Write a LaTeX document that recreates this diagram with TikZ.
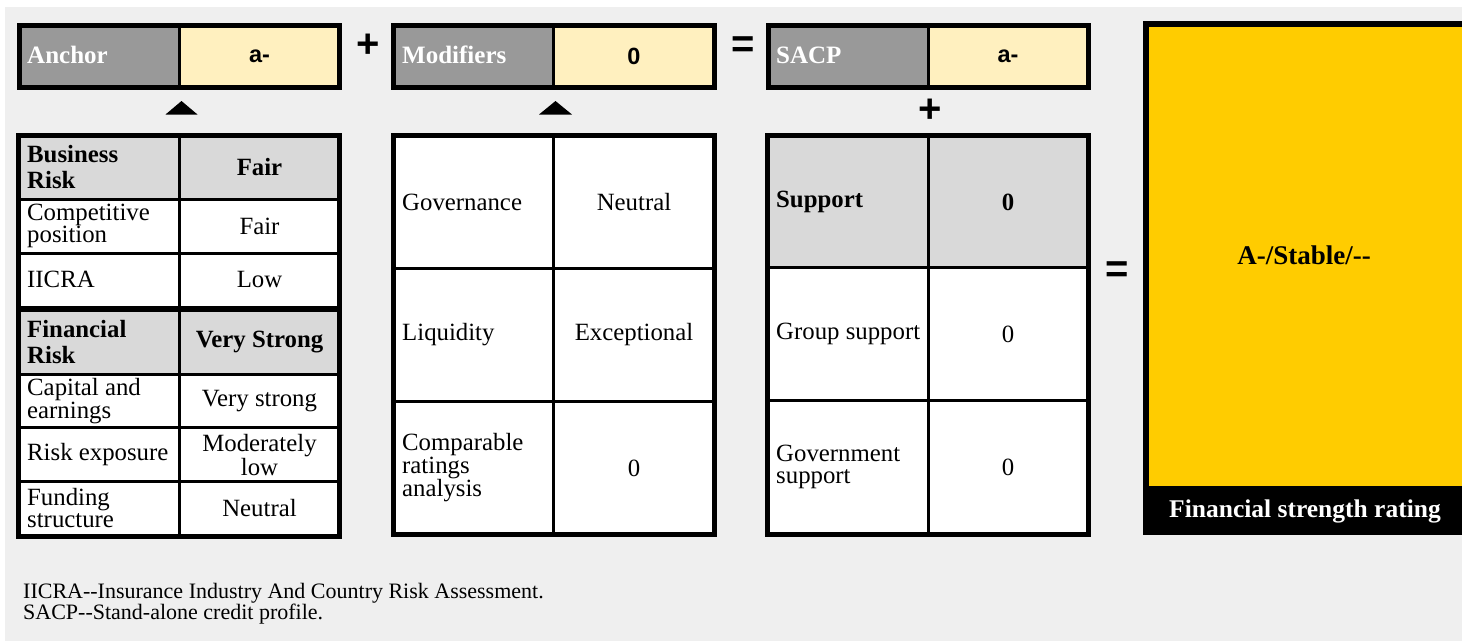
\documentclass[tikz,border=0pt]{standalone}
\usepackage{fontspec}
\setmainfont{Liberation Serif}
\newfontfamily\sansfam{Liberation Sans}
\definecolor{bgc}{HTML}{EFEFEF}
\definecolor{hdrg}{HTML}{999999}
\definecolor{paley}{HTML}{FFF0BF}
\definecolor{cellg}{HTML}{D9D9D9}
\definecolor{fsrgold}{HTML}{FFCC00}
\newcommand{\dblhy}{-\kern0pt-}
\tikzset{
 body/.style={inner sep=0pt, font=\fontsize{24.8}{22.5}\selectfont},
 lbl/.style={body, anchor=west, align=left},
 val/.style={body, anchor=center, align=center},
 blbl/.style={inner sep=0pt, anchor=west, align=left, font=\fontsize{24.8}{26}\selectfont\bfseries},
 bval/.style={inner sep=0pt, anchor=center, align=center, font=\fontsize{24.8}{26}\selectfont\bfseries},
 hdrtxt/.style={inner sep=0pt, anchor=west, text=white, font=\fontsize{25}{26}\selectfont\bfseries},
 sanstxt/.style={inner sep=0pt, anchor=center, font=\sansfam\fontsize{23.5}{23.5}\selectfont\bfseries},
 optxt/.style={inner sep=0pt, anchor=center, font=\sansfam\fontsize{40}{40}\selectfont\bfseries},
 foot/.style={inner sep=0pt, anchor=west, font=\fontsize{22}{21}\selectfont},
 frame/.style={line width=5pt},
 gridline/.style={line width=3pt},
 thickgrid/.style={line width=6pt},
 tri/.style={fill=black},
}
\begin{document}
\begin{tikzpicture}[x=1pt,y=-1pt]
\useasboundingbox (0,0) rectangle (1462,641);
\fill[white] (0,0) rectangle (1462,641);
\fill[bgc] (5,7) rectangle (1462,641);

% ---------- header boxes ----------
% Anchor
\fill[hdrg] (19.5,25.5) rectangle (179.5,87.5);
\fill[paley] (179.5,25.5) rectangle (339.5,87.5);
\draw[frame] (19.5,25.5) rectangle (339.5,87.5);
\draw[gridline] (179.5,25.5) -- (179.5,87.5);
\node[hdrtxt] (anchorlbl) at (27,55) {Anchor};
\node[sanstxt] (anchorval) at (259.5,56) {a-};
% Modifiers
\fill[hdrg] (393.5,25.5) rectangle (553.5,87.5);
\fill[paley] (553.5,25.5) rectangle (714.5,87.5);
\draw[frame] (393.5,25.5) rectangle (714.5,87.5);
\draw[gridline] (553.5,25.5) -- (553.5,87.5);
\node[hdrtxt] (modlbl) at (402,55) {Modifiers};
\node[sanstxt] (modval) at (634,56) {0};
% SACP
\fill[hdrg] (768.5,25.5) rectangle (928,87.5);
\fill[paley] (928,25.5) rectangle (1088.5,87.5);
\draw[frame] (768.5,25.5) rectangle (1088.5,87.5);
\draw[gridline] (928,25.5) -- (928,87.5);
\node[hdrtxt] (sacplbl) at (776,55) {SACP};
\node[sanstxt] (sacpval) at (1008,56) {a-};

% operators
\node[optxt] (plusA) at (368,45.5) {+};
\node[optxt] (eqA) at (743,47) {=};
\node[optxt] (plusB) at (930,111) {+};
\node[optxt] (eqB) at (1117.5,272.5) {=};

% triangles
\fill[tri] (165.5,114.5) -- (181.5,101) -- (197.5,114.5) -- cycle;
\fill[tri] (539,114.5) -- (555.5,101) -- (572,114.5) -- cycle;

% ---------- left table ----------
\fill[white] (18.5,135.5) rectangle (339.5,536.5);
\fill[cellg] (21,138) rectangle (337,199.5);
\fill[cellg] (21,309) rectangle (337,374);
\node[blbl] (brisk) at (27,167) {Business\\Risk};
\node[bval] (briskv) at (259.5,167) {Fair};
\node[lbl] (comp) at (27,226) {Competitive\\position};
\node[val] (compv) at (259.5,226) {Fair};
\node[lbl] (iicra) at (27,279.5) {IICRA};
\node[val] (iicrav) at (259.5,279.5) {Low};
\node[blbl] (frisk) at (27,342) {Financial\\Risk};
\node[bval] (friskv) at (259.5,342) {Very Strong};
\node[lbl] (capital) at (27,401) {Capital and\\earnings};
\node[val] (capitalv) at (259.5,401) {Very strong};
\node[lbl] (riskexp) at (27,455) {Risk exposure};
\node[val] (riskexpv) at (259.5,455) {Moderately\\low};
\node[lbl] (funding) at (27,508) {Funding\\structure};
\node[val] (fundingv) at (259.5,508) {Neutral};
\draw[gridline] (179.5,135.5) -- (179.5,536.5);
\foreach \yy in {199.5,253,374,427.5,481.5} \draw[gridline] (18.5,\yy) -- (339.5,\yy);
\draw[thickgrid] (18.5,309) -- (339.5,309);
\draw[frame] (18.5,135.5) rectangle (339.5,536.5);

% ---------- middle table ----------
\fill[white] (393.5,135.5) rectangle (714.5,534.5);
\node[lbl] (gov) at (402,202) {Governance};
\node[val] (govv) at (634,202) {Neutral};
\node[lbl] (liq) at (402,335) {Liquidity};
\node[val] (liqv) at (634,335) {Exceptional};
\node[lbl] (cra) at (402,468) {Comparable\\ratings\\analysis};
\node[val] (crav) at (634,468) {0};
\draw[gridline] (553.8,135.5) -- (553.8,534.5);
\draw[gridline] (393.5,268.3) -- (714.5,268.3);
\draw[gridline] (393.5,401.5) -- (714.5,401.5);
\draw[frame] (393.5,135.5) rectangle (714.5,534.5);

% ---------- right table ----------
\fill[white] (767.5,135.5) rectangle (1088.5,534.5);
\fill[cellg] (770,138) rectangle (1086,267.5);
\node[blbl] (supp) at (776,202) {Support};
\node[bval] (suppv) at (1008,202) {0};
\node[lbl] (grp) at (776,334) {Group support};
\node[val] (grpv) at (1008,334) {0};
\node[lbl] (govs) at (776,467) {Government\\support};
\node[val] (govsv) at (1008,467) {0};
\draw[gridline] (928,135.5) -- (928,534.5);
\draw[gridline] (767.5,267.5) -- (1088.5,267.5);
\draw[gridline] (767.5,400.2) -- (1088.5,400.2);
\draw[frame] (767.5,135.5) rectangle (1088.5,534.5);

% ---------- rating box ----------
\fill[fsrgold] (1146,24) rectangle (1462,486);
\fill[black] (1143,486) rectangle (1462,535);
\draw[line width=6pt] (1146,24) rectangle (1465,532);
\node[inner sep=0pt, font=\fontsize{27}{27}\selectfont\bfseries] (rating) at (1304,255) {A-/Stable/\dblhy};
\node[inner sep=0pt, text=white, font=\fontsize{25.5}{26}\selectfont\bfseries] (fsr) at (1305,511) {Financial strength rating};

% ---------- footnotes ----------
\node[foot] (fn1) at (23,593) {IICRA\dblhy Insurance Industry And Country Risk Assessment.};
\node[foot] (fn2) at (23,614) {SACP\dblhy Stand-alone credit profile.};
\end{tikzpicture}
\end{document}
